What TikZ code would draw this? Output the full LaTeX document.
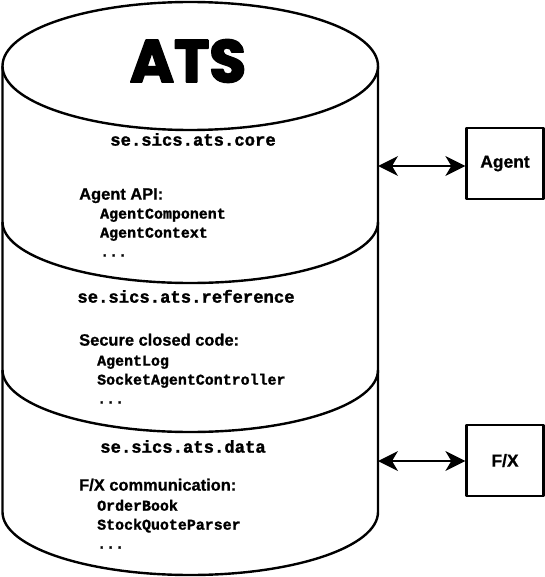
\documentclass[tikz,border=0pt]{standalone}
\usepackage{fontspec}
\setmainfont{Liberation Sans}
\newfontfamily\codefont{Liberation Mono}
\newfontfamily\atsfont{Poppins}
\usetikzlibrary{arrows.meta}
\begin{document}
\begin{tikzpicture}[x=1bp,y=-1bp,line join=round]
\tikzset{
  cyl/.style={line width=2.4bp},
  pkg/.style={font=\codefont\bfseries\addfontfeature{FakeBold=1.5}\fontsize{17.3}{20}\selectfont,inner sep=0,anchor=mid},
  head/.style={font=\bfseries\addfontfeature{FakeBold=0.8}\fontsize{16.5}{18}\selectfont,inner sep=0,anchor=mid west},
  item/.style={font=\codefont\bfseries\addfontfeature{FakeBold=1.5}\fontsize{15}{18}\selectfont,inner sep=0,anchor=mid west},
  ext/.style={draw,line width=2.4bp,minimum width=77bp,minimum height=71bp,inner sep=0,font=\bfseries\addfontfeature{FakeBold=0.8}\fontsize{17.5}{19}\selectfont},
  tip/.tip={Stealth[length=20bp,width=20bp,inset=6bp,line width=0pt]},
  link/.style={line width=2.4bp,tip-tip}
}
\useasboundingbox (0,0) rectangle (545,577);
\fill[white] (0,0) rectangle (545,577);
% cylinder
\draw[cyl] (2.5,66) -- (2.5,512) arc[start angle=180,end angle=0,x radius=187.75,y radius=63] -- (378,66);
\draw[cyl] (2.5,222) arc[start angle=180,end angle=0,x radius=187.75,y radius=61];
\draw[cyl] (2.5,370) arc[start angle=180,end angle=0,x radius=187.75,y radius=62];
\draw[cyl,fill=white] (190.25,66) ellipse [x radius=187.75,y radius=64];
\node[font=\atsfont\bfseries\addfontfeature{FakeBold=3}\fontsize{60}{60}\selectfont,inner sep=0] (ats) at (188,61) {ATS};
% band 1
\node[pkg] (p1) at (193,143) {se.sics.ats.core};
\node[head] (h1) at (79,197) {Agent API:};
\node[item] (i11) at (100,216) {AgentComponent};
\node[item] (i12) at (100,235) {AgentContext};
\node[item] (i13) at (100,254) {...};
% band 2
\node[pkg] (p2) at (186,300) {se.sics.ats.reference};
\node[head] (h2) at (79,343) {Secure closed code:};
\node[item] (i21) at (97,363) {AgentLog};
\node[item] (i22) at (97,382) {SocketAgentController};
\node[item] (i23) at (97,401) {...};
% band 3
\node[pkg] (p3) at (183,450) {se.sics.ats.data};
\node[head] (h3) at (79,488) {F/X communication:};
\node[item] (i31) at (97,508) {OrderBook};
\node[item] (i32) at (97,527) {StockQuoteParser};
\node[item] (i33) at (97,546) {...};
% external boxes
\node[ext] (agent) at (505,163.5) {Agent};
\node[ext] (fx) at (505,460.5) {F/X};
\coordinate (c1) at (378,166);
\coordinate (c2) at (378,461);
\draw[link] (c1) -- (agent.west |- c1);
\draw[link] (c2) -- (fx.west |- c2);
\end{tikzpicture}
\end{document}
